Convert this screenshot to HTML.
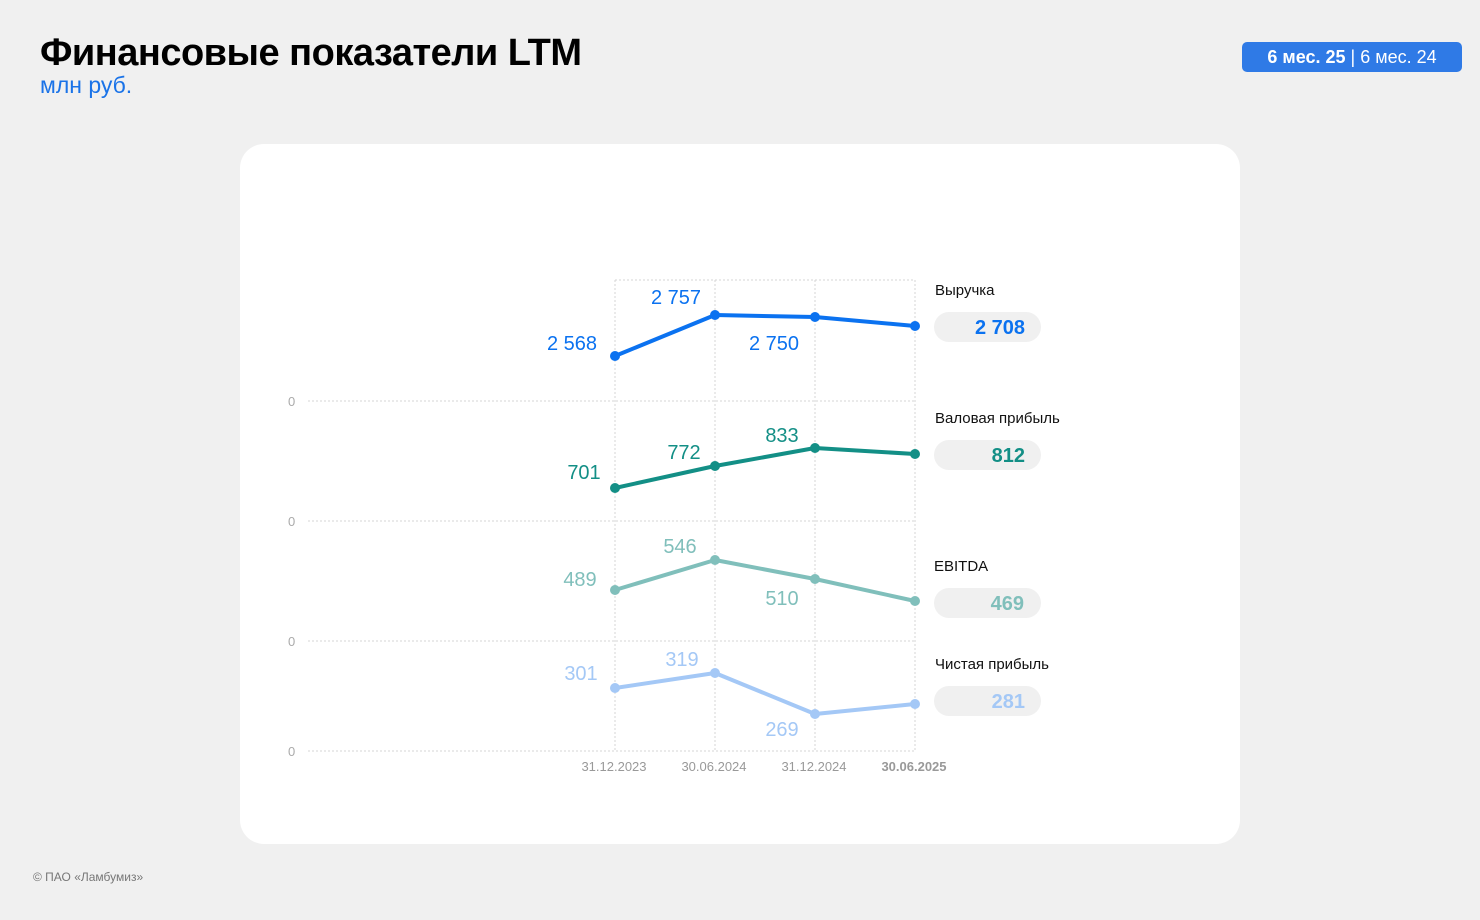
<!DOCTYPE html>
<html><head><meta charset="utf-8"><style>
body{margin:0;width:1480px;height:920px;background:#f0f0f0;font-family:"Liberation Sans",sans-serif;position:relative;overflow:hidden}
.t{position:absolute;white-space:nowrap}
</style></head><body>
<div class="t" style="left:40px;top:32px;font-size:38px;font-weight:bold;color:#000;letter-spacing:-0.5px">Финансовые показатели LTM</div>
<div class="t" style="left:40px;top:72px;font-size:23px;color:#1a73e8">млн руб.</div>
<div class="t" style="left:1242px;top:42px;width:220px;height:30px;background:#2f7ae6;border-radius:5px;color:#fff;font-size:18px;line-height:30px;text-align:center"><b>6 мес. 25</b> | 6 мес. 24</div>
<div style="position:absolute;left:240px;top:144px;width:1000px;height:700px;background:#fff;border-radius:24px"></div>
<svg style="position:absolute;left:0;top:0" width="1480" height="920" font-family="Liberation Sans, sans-serif">
<g stroke="#d4d4d4" stroke-width="1" stroke-dasharray="2,2">
<line x1="615" y1="280" x2="615" y2="751"/><line x1="715" y1="280" x2="715" y2="751"/><line x1="815" y1="280" x2="815" y2="751"/><line x1="915" y1="280" x2="915" y2="751"/>
<line x1="308" y1="401" x2="915" y2="401"/><line x1="308" y1="521" x2="915" y2="521"/><line x1="308" y1="641" x2="915" y2="641"/><line x1="308" y1="751" x2="915" y2="751"/>
<line x1="615" y1="280" x2="915" y2="280"/>
</g>
<g fill="#aaa" font-size="13"><text x="288" y="406">0</text><text x="288" y="526">0</text><text x="288" y="646">0</text><text x="288" y="756">0</text></g>
<g fill="#999" font-size="13" text-anchor="middle"><text x="614" y="771">31.12.2023</text><text x="714" y="771">30.06.2024</text><text x="814" y="771">31.12.2024</text><text x="914" y="771" font-weight="bold">30.06.2025</text></g>
<g stroke-width="4" fill="none" stroke-linejoin="round">
<polyline stroke="#0b72f0" points="615,356 715,315 815,317 915,326"/>
<polyline stroke="#138f86" points="615,488 715,466 815,448 915,454"/>
<polyline stroke="#80bfbb" points="615,590 715,560 815,579 915,601"/>
<polyline stroke="#a4c8f6" points="615,688 715,673 815,714 915,704"/>
</g>
<g fill="#0b72f0"><circle cx="615" cy="356" r="5"/><circle cx="715" cy="315" r="5"/><circle cx="815" cy="317" r="5"/><circle cx="915" cy="326" r="5"/></g>
<g fill="#138f86"><circle cx="615" cy="488" r="5"/><circle cx="715" cy="466" r="5"/><circle cx="815" cy="448" r="5"/><circle cx="915" cy="454" r="5"/></g>
<g fill="#80bfbb"><circle cx="615" cy="590" r="5"/><circle cx="715" cy="560" r="5"/><circle cx="815" cy="579" r="5"/><circle cx="915" cy="601" r="5"/></g>
<g fill="#a4c8f6"><circle cx="615" cy="688" r="5"/><circle cx="715" cy="673" r="5"/><circle cx="815" cy="714" r="5"/><circle cx="915" cy="704" r="5"/></g>
<g font-size="20" text-anchor="middle">
<g fill="#0b72f0"><text x="572" y="350">2 568</text><text x="676" y="304">2 757</text><text x="774" y="350">2 750</text></g>
<g fill="#138f86"><text x="584" y="479">701</text><text x="684" y="459">772</text><text x="782" y="442">833</text></g>
<g fill="#80bfbb"><text x="580" y="586">489</text><text x="680" y="553">546</text><text x="782" y="605">510</text></g>
<g fill="#a4c8f6"><text x="581" y="680">301</text><text x="682" y="666">319</text><text x="782" y="736">269</text></g>
</g>
<g font-size="15" fill="#111"><text x="935" y="295">Выручка</text><text x="935" y="423">Валовая прибыль</text><text x="934" y="571">EBITDA</text><text x="935" y="669">Чистая прибыль</text></g>
<g fill="#f0f0f0"><rect x="934" y="312" width="107" height="30" rx="15"/><rect x="934" y="440" width="107" height="30" rx="15"/><rect x="934" y="588" width="107" height="30" rx="15"/><rect x="934" y="686" width="107" height="30" rx="15"/></g>
<g font-size="20" font-weight="bold" text-anchor="end"><text x="1025" y="334" fill="#0b72f0">2 708</text><text x="1025" y="462" fill="#138f86">812</text><text x="1024" y="610" fill="#80bfbb">469</text><text x="1025" y="708" fill="#a4c8f6">281</text></g>
</svg>
<div class="t" style="left:33px;top:870px;font-size:12px;color:#777">© ПАО «Ламбумиз»</div>
</body></html>
